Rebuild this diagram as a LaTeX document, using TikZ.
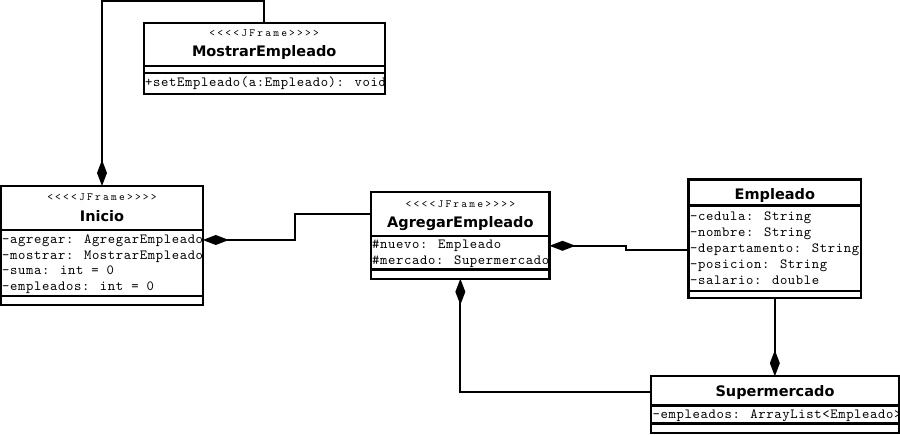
\documentclass[tikz,border=0pt]{standalone}
\usepackage{fontspec}
\newfontfamily\namefont{DejaVu Sans}
\newfontfamily\codefont{lmmono10-regular.otf}[LetterSpace=4.5]
\newfontfamily\stfont{lmmono10-regular.otf}[LetterSpace=20]
\usetikzlibrary{arrows.meta,calc}
\begin{document}
\begin{tikzpicture}[x=1pt,y=-1pt,
 box/.style={draw=black,line width=2.2pt,fill=white,rectangle,inner sep=0pt,outer sep=0pt,anchor=north west},
 sepline/.style={draw=black,line width=2.2pt},
 conn/.style={draw=black,line width=2pt},
 comp/.style={conn,{Diamond[length=26pt,width=10pt]}-},
 st/.style={inner sep=0pt,anchor=base,font=\stfont\fontsize{11}{12}\selectfont},
 cname/.style={inner sep=0pt,anchor=base,font=\namefont\bfseries\fontsize{14.5}{17}\selectfont},
 attr/.style={inner sep=0pt,anchor=base west,font=\codefont\fontsize{14}{16}\selectfont},
]
\useasboundingbox (0,0) rectangle (900,435);

% boxes
\node[box,minimum width=241pt,minimum height=70.8pt] (mostrar) at (143.7,23) {};
\node[box,minimum width=201.6pt,minimum height=119pt] (inicio) at (1.2,186) {};
\node[box,minimum width=178.3pt,minimum height=86.6pt] (agregar) at (371.2,192.2) {};
\node[box,minimum width=172.7pt,minimum height=118.3pt] (empleado) at (688.5,179.5) {};
\node[box,minimum width=247.8pt,minimum height=56.6pt] (super) at (651.2,376.2) {};

% separators
\draw[sepline] ($(mostrar.north west)+(0,43.2)$) -- ($(mostrar.north east)+(0,43.2)$);
\draw[sepline] ($(mostrar.north west)+(0,49.8)$) -- ($(mostrar.north east)+(0,49.8)$);
\draw[sepline] ($(inicio.north west)+(0,44.2)$) -- ($(inicio.north east)+(0,44.2)$);
\draw[sepline] ($(inicio.north west)+(0,110)$) -- ($(inicio.north east)+(0,110)$);
\draw[sepline] ($(agregar.north west)+(0,44)$) -- ($(agregar.north east)+(0,44)$);
\draw[sepline] ($(agregar.north west)+(0,77.3)$) -- ($(agregar.north east)+(0,77.3)$);
\draw[sepline] ($(empleado.north west)+(0,26)$) -- ($(empleado.north east)+(0,26)$);
\draw[sepline] ($(empleado.north west)+(0,111.7)$) -- ($(empleado.north east)+(0,111.7)$);
\draw[sepline] ($(super.north west)+(0,29.3)$) -- ($(super.north east)+(0,29.3)$);
\draw[sepline] ($(super.north west)+(0,47.3)$) -- ($(super.north east)+(0,47.3)$);

% texts
\begin{scope}
\clip (mostrar.north west) rectangle (mostrar.south east);
\node[st] (mostrar-st) at (264.2,36.5) {<<<<JFrame>>>>};
\node[cname] (mostrar-name) at (264.2,57) {MostrarEmpleado};
\node[attr] (mostrar-m1) at (145,86.5) {+setEmpleado(a:Empleado): void};
\end{scope}

\begin{scope}
\clip (inicio.north west) rectangle (inicio.south east);
\node[st] (inicio-st) at (102,200.5) {<<<<JFrame>>>>};
\node[cname] (inicio-name) at (102,221.5) {Inicio};
\node[attr] (inicio-a1) at (2,244) {-agregar: AgregarEmpleado};
\node[attr] (inicio-a2) at (2,259.5) {-mostrar: MostrarEmpleado};
\node[attr] (inicio-a3) at (2,275) {-suma: int = 0};
\node[attr] (inicio-a4) at (2,290.5) {-empleados: int = 0};
\end{scope}

\begin{scope}
\clip (agregar.north west) rectangle (agregar.south east);
\node[st] (agregar-st) at (460.35,207.5) {<<<<JFrame>>>>};
\node[cname] (agregar-name) at (460.35,227.5) {AgregarEmpleado};
\node[attr] (agregar-a1) at (372,249) {\#nuevo: Empleado};
\node[attr] (agregar-a2) at (372,265) {\#mercado: Supermercado};
\end{scope}

\begin{scope}
\clip (empleado.north west) rectangle (empleado.south east);
\node[cname] (empleado-name) at (774.85,200) {Empleado};
\node[attr] (empleado-a1) at (690,221) {-cedula: String};
\node[attr] (empleado-a2) at (690,237) {-nombre: String};
\node[attr] (empleado-a3) at (690,253) {-departamento: String};
\node[attr] (empleado-a4) at (690,269) {-posicion: String};
\node[attr] (empleado-a5) at (690,285) {-salario: double};
\end{scope}

\begin{scope}
\clip (super.north west) rectangle (super.south east);
\node[cname] (super-name) at (775,397) {Supermercado};
\node[attr] (super-a1) at (652.5,419) {-empleados: ArrayList<Empleado>};
\end{scope}

% connectors
\draw[comp] (inicio.north) -- ++(0,-185) -| (mostrar.north);
\draw[comp] ($(inicio.north east)+(0,54)$) -- ++(92.5,0) |- ($(agregar.north west)+(0,21.5)$);
\draw[comp] ($(agregar.north east)+(0,53.6)$) -- ++(76.5,0) |- ($(empleado.north west)+(0,70.2)$);
\draw[comp] (agregar.south) |- ($(super.north west)+(0,15.5)$);
\draw[comp] (super.north -| empleado.south) -- (empleado.south);
\end{tikzpicture}
\end{document}
